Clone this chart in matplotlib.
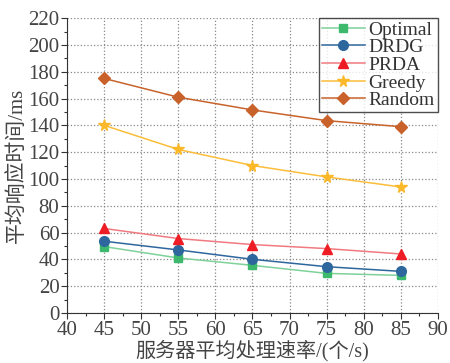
import matplotlib
matplotlib.use('Agg')
import matplotlib.pyplot as plt
from matplotlib.ticker import MultipleLocator

# 数据
rates = [45, 55, 65, 75, 85]
optimal = [49.5, 41, 35.5, 29.5, 28]
drdg = [53.5, 47, 40, 34.5, 31]
prda = [63, 55.5, 51, 48, 44]
greedy = [140, 122, 110, 101.5, 94]
random_ = [175, 161, 151.5, 143.5, 139]

plt.rcParams['font.family'] = ['Liberation Serif', 'Noto Sans CJK SC']

fig = plt.figure(figsize=(4.5, 3.63), dpi=100)
ax = fig.add_axes([0.149, 0.138, 0.824, 0.812])

ax.plot(rates, optimal, color='#7fd19a', marker='s', ms=6, mfc='#3cb96c', mec='#3cb96c', lw=1.1, label='Optimal')
ax.plot(rates, drdg, color='#2e679e', marker='o', ms=7, mfc='#2e679e', mec='#2e679e', lw=1.1, label='DRDG')
ax.plot(rates, prda, color='#f07a80', marker='^', ms=7.5, mfc='#ee1c25', mec='#ee1c25', lw=1.1, label='PRDA')
ax.plot(rates, greedy, color='#fbbd3a', marker='*', ms=8.5, mfc='#fbb829', mec='#fbb829', lw=1.1, label='Greedy')
ax.plot(rates, random_, color='#c8632c', marker='D', ms=6.5, mfc='#c8612a', mec='#c8612a', lw=1.1, label='Random')

ax.set_xlim(40, 90)
ax.set_ylim(0, 220)
ax.xaxis.set_major_locator(MultipleLocator(5))
ax.xaxis.set_minor_locator(MultipleLocator(2.5))
ax.yaxis.set_major_locator(MultipleLocator(20))
ax.yaxis.set_minor_locator(MultipleLocator(10))
ax.tick_params(which='major', direction='out', length=4, width=0.8, labelsize=15, colors='#333333', labelcolor='#444444', pad=1.5)
ax.tick_params(which='minor', direction='out', length=2.5, width=0.8, colors='#333333')
ax.grid(True, which='major', linestyle=':', color='#888888', lw=0.9)
ax.set_axisbelow(True)
for s in ['top', 'right']:
    ax.spines[s].set_visible(False)
for s in ['left', 'bottom']:
    ax.spines[s].set_color('#333333')

ax.set_xlabel('服务器平均处理速率/(个/s)', fontsize=14.5, color='#444444', labelpad=0)
ax.set_ylabel('平均响应时间/ms', fontsize=15, color='#444444', labelpad=1)

leg = ax.legend(loc='upper right', fontsize=14, frameon=True, fancybox=False,
                edgecolor='#222222', borderpad=0.15, labelspacing=0.0,
                handlelength=2.2, handletextpad=0.2, borderaxespad=0.0)
leg.get_frame().set_linewidth(1.0)
for t in leg.get_texts():
    t.set_color('#333333')

fig.savefig('out.png', dpi=100)
